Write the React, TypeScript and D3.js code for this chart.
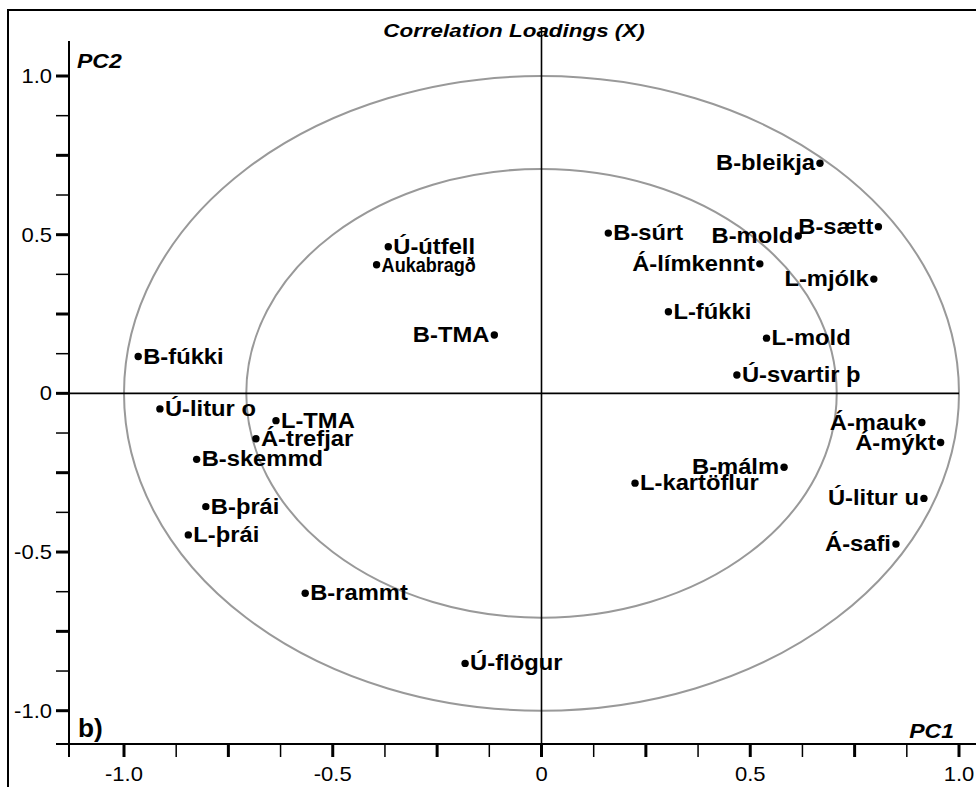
import React from 'react';
import * as d3 from 'd3';

const labels = [
  'B-bleikja', 'B-súrt', 'B-mold', 'B-sætt', 'Á-límkennt', 'L-mjólk', 'L-fúkki', 'L-mold',
  'Ú-svartir þ', 'Á-mauk', 'Á-mýkt', 'B-málm', 'L-kartöflur', 'Ú-litur u', 'Á-safi',
  'Ú-litur o', 'L-TMA', 'Á-trefjar', 'B-skemmd', 'B-þrái', 'L-þrái', 'B-rammt', 'Ú-flögur',
  'B-fúkki', 'Ú-útfell', 'Aukabragð', 'B-TMA',
];
const pc1 = [
  0.667, 0.160, 0.615, 0.807, 0.523, 0.796, 0.304, 0.539,
  0.468, 0.911, 0.956, 0.581, 0.224, 0.916, 0.849,
  -0.914, -0.636, -0.684, -0.826, -0.804, -0.846, -0.566, -0.183,
  -0.966, -0.367, -0.395, -0.113,
];
const pc2 = [
  0.725, 0.505, 0.496, 0.525, 0.408, 0.360, 0.257, 0.174,
  0.058, -0.092, -0.155, -0.233, -0.283, -0.331, -0.475,
  -0.049, -0.086, -0.143, -0.208, -0.357, -0.446, -0.630, -0.851,
  0.116, 0.462, 0.405, 0.184,
];
const labelsOnLeft = [
  'B-bleikja', 'B-mold', 'B-sætt', 'Á-límkennt', 'L-mjólk', 'B-TMA',
  'Á-mauk', 'Á-mýkt', 'B-málm', 'Ú-litur u', 'Á-safi',
];
const condensedLabels = ['Aukabragð'];
const tickValues = [-1, -0.5, 0, 0.5, 1];
const tickLabels = ['-1.0', '-0.5', '0', '0.5', '1.0'];
const circleRadii = [1, Math.SQRT1_2];

const FONT = '"Liberation Sans", Arial, Helvetica, sans-serif';

export default function App() {
  const x = d3.scaleLinear().domain([-1, 1]).range([124, 959]);
  const y = d3.scaleLinear().domain([-1, 1]).range([710.7, 76]);
  const minor = d3.range(-8, 9).map((i) => i / 8);
  const axisX = 69;
  const axisY = 744;
  const sxTick = 1.1;

  return (
    <svg width={976} height={787} style={{ position: 'absolute', left: 0, top: 0, background: '#fff' }}
      fontFamily={FONT}>
      <rect x={0} y={0} width={976} height={787} fill="#fff" />
      {/* frame */}
      <rect x={8} y={10} width={1000} height={800} fill="none" stroke="#000" strokeWidth={2} />
      {/* title */}
      <text transform={`translate(514,37) scale(1.18,1)`} textAnchor="middle" fontSize={19}
        fontWeight="bold" fontStyle="italic">Correlation Loadings (X)</text>
      {/* circles */}
      {circleRadii.map((r, i) => (
        <ellipse key={i} cx={x(0)} cy={y(0)} rx={x(r) - x(0)} ry={y(0) - y(r)}
          fill="none" stroke="#999" strokeWidth={2} />
      ))}
      {/* zero lines */}
      <line x1={axisX} x2={x(1)} y1={y(0)} y2={y(0)} stroke="#000" strokeWidth={1.6} />
      <line x1={x(0)} x2={x(0)} y1={27} y2={axisY} stroke="#000" strokeWidth={1.6} />
      {/* y axis */}
      <line x1={axisX} x2={axisX} y1={41} y2={757} stroke="#000" strokeWidth={2} />
      {minor.map((v, i) => {
        const major = i % 2 === 0;
        return (
          <line key={'yt' + i} x1={56} x2={axisX} y1={y(v)} y2={y(v)} stroke="#000"
            strokeWidth={major ? 3 : 1.5} />
        );
      })}
      {tickValues.map((v, i) => (
        <text key={'yl' + i} transform={`translate(52,${y(v) + 7}) scale(${sxTick},1)`}
          textAnchor="end" fontSize={20}>{tickLabels[i]}</text>
      ))}
      {/* x axis */}
      <line x1={56} x2={976} y1={axisY} y2={axisY} stroke="#000" strokeWidth={2} />
      {minor.map((v, i) => {
        const major = i % 2 === 0;
        return (
          <line key={'xt' + i} x1={x(v)} x2={x(v)} y1={axisY} y2={757} stroke="#000"
            strokeWidth={major ? 3 : 1.5} />
        );
      })}
      {tickValues.map((v, i) => (
        <text key={'xl' + i} transform={`translate(${x(v)},781) scale(${sxTick},1)`}
          textAnchor="middle" fontSize={20}>{tickLabels[i]}</text>
      ))}
      {/* axis names */}
      <text transform={`translate(77,68) scale(1.15,1)`} fontSize={20} fontWeight="bold"
        fontStyle="italic">PC2</text>
      <text transform={`translate(954,738) scale(1.15,1)`} textAnchor="end" fontSize={20}
        fontWeight="bold" fontStyle="italic">PC1</text>
      <text transform={`translate(78,737) scale(1.05,1)`} fontSize={25} fontWeight="bold">b)</text>
      {/* points */}
      {labels.map((name, i) => {
        const px = x(pc1[i]);
        const py = y(pc2[i]);
        const left = labelsOnLeft.includes(name);
        const cond = condensedLabels.includes(name);
        const fs = cond ? 21 : 22;
        const sx = cond ? 0.86 : 1.08;
        return (
          <g key={name}>
            <circle cx={px} cy={py} r={3.7} fill="#000" />
            <text transform={`translate(${left ? px - 5 : px + 5},${py + 7}) scale(${sx},1)`}
              textAnchor={left ? 'end' : 'start'} fontSize={fs} fontWeight="bold">{name}</text>
          </g>
        );
      })}
    </svg>
  );
}
